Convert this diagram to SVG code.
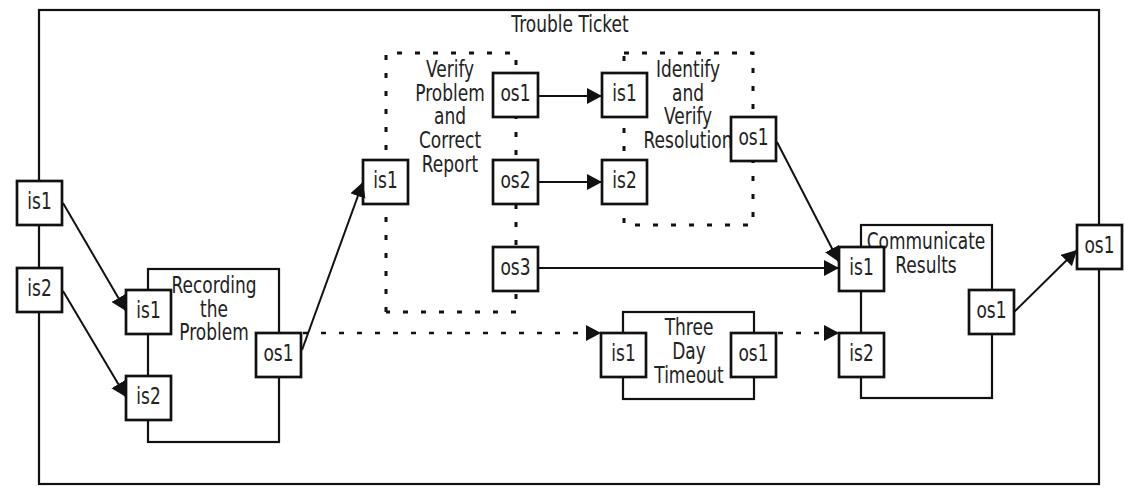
<svg xmlns="http://www.w3.org/2000/svg" width="1125" height="489" viewBox="0 0 1125 489">
<style>
.t{font-family:"DejaVu Sans","Liberation Sans",sans-serif;font-size:23px;fill:#222;text-anchor:middle}
.box{fill:none;stroke:#111;stroke-width:2.2}
.dot{fill:none;stroke:#111;stroke-width:3;stroke-dasharray:5 13}
.port rect{fill:#fff;stroke:#111;stroke-width:2.7}
.c{fill:none;stroke:#111;stroke-width:2}
.cd{fill:none;stroke:#111;stroke-width:2.6;stroke-dasharray:5 13}
</style>
<defs>
<marker id="ah" markerUnits="userSpaceOnUse" markerWidth="17" markerHeight="17" refX="15" refY="8" orient="auto">
<path d="M0,0 L15,8 L0,16 z" fill="#111"/>
</marker>
</defs>
<rect width="1125" height="489" fill="#fff"/>

<g id="trouble-ticket">
<rect class="box" x="39" y="10" width="1060" height="474" stroke-width="2.5"/>
<text class="t" transform="translate(570,32) scale(0.74,1)">Trouble Ticket</text>
</g>

<g id="recording">
<rect class="box" x="148" y="269" width="131" height="173"/>
<text class="t" transform="translate(214,293) scale(0.74,1)"><tspan x="0" y="0">Recording</tspan><tspan x="0" dy="24">the</tspan><tspan x="0" dy="23">Problem</tspan></text>
</g>

<g id="verify">
<path class="dot" d="M386,312 V53 H516 V312 H386"/>
<text class="t" transform="translate(450,77) scale(0.74,1)"><tspan x="0" y="0">Verify</tspan><tspan x="0" dy="24">Problem</tspan><tspan x="0" dy="23.5">and</tspan><tspan x="0" dy="23.5">Correct</tspan><tspan x="0" dy="24">Report</tspan></text>
</g>

<g id="identify">
<path class="dot" d="M624,53 H753 V225 H624 Z"/>
<text class="t" transform="translate(688,77) scale(0.74,1)"><tspan x="0" y="0">Identify</tspan><tspan x="0" dy="24">and</tspan><tspan x="0" dy="23.5">Verify</tspan><tspan x="0" dy="23.5">Resolution</tspan></text>
</g>

<g id="three-day">
<rect class="box" x="623" y="312" width="131" height="87"/>
<text class="t" transform="translate(689,335) scale(0.74,1)"><tspan x="0" y="0">Three</tspan><tspan x="0" dy="24">Day</tspan><tspan x="0" dy="24">Timeout</tspan></text>
</g>

<g id="communicate">
<rect class="box" x="861" y="225" width="131" height="173"/>
<text class="t" transform="translate(926,249) scale(0.74,1)"><tspan x="0" y="0">Communicate</tspan><tspan x="0" dy="24">Results</tspan></text>
</g>

<g id="tt-is1" class="port"><rect x="17" y="181" width="45" height="44"/><text class="t" transform="translate(39.5,209) scale(0.74,1)">is1</text></g>
<g id="tt-is2" class="port"><rect x="17" y="268" width="45" height="44"/><text class="t" transform="translate(39.5,296) scale(0.74,1)">is2</text></g>
<g id="tt-os1" class="port"><rect x="1077" y="225" width="45" height="44"/><text class="t" transform="translate(1099.5,253) scale(0.74,1)">os1</text></g>

<g id="rec-is1" class="port"><rect x="126" y="290" width="45" height="44"/><text class="t" transform="translate(148.5,318) scale(0.74,1)">is1</text></g>
<g id="rec-is2" class="port"><rect x="126" y="376" width="45" height="44"/><text class="t" transform="translate(148.5,404) scale(0.74,1)">is2</text></g>
<g id="rec-os1" class="port"><rect x="256" y="333" width="45" height="44"/><text class="t" transform="translate(278.5,361) scale(0.74,1)">os1</text></g>

<g id="ver-is1" class="port"><rect x="363" y="160" width="45" height="44"/><text class="t" transform="translate(385.5,188) scale(0.74,1)">is1</text></g>
<g id="ver-os1" class="port"><rect x="493" y="73" width="45" height="44"/><text class="t" transform="translate(515.5,101) scale(0.74,1)">os1</text></g>
<g id="ver-os2" class="port"><rect x="493" y="160" width="45" height="44"/><text class="t" transform="translate(515.5,188) scale(0.74,1)">os2</text></g>
<g id="ver-os3" class="port"><rect x="493" y="247" width="45" height="44"/><text class="t" transform="translate(515.5,275) scale(0.74,1)">os3</text></g>

<g id="ide-is1" class="port"><rect x="602" y="73" width="45" height="44"/><text class="t" transform="translate(624.5,101) scale(0.74,1)">is1</text></g>
<g id="ide-is2" class="port"><rect x="602" y="160" width="45" height="44"/><text class="t" transform="translate(624.5,188) scale(0.74,1)">is2</text></g>
<g id="ide-os1" class="port"><rect x="731" y="117" width="45" height="44"/><text class="t" transform="translate(753.5,145) scale(0.74,1)">os1</text></g>

<g id="tdt-is1" class="port"><rect x="601" y="333" width="45" height="44"/><text class="t" transform="translate(623.5,361) scale(0.74,1)">is1</text></g>
<g id="tdt-os1" class="port"><rect x="731" y="333" width="45" height="44"/><text class="t" transform="translate(753.5,361) scale(0.74,1)">os1</text></g>

<g id="com-is1" class="port"><rect x="839" y="247" width="45" height="44"/><text class="t" transform="translate(861.5,275) scale(0.74,1)">is1</text></g>
<g id="com-is2" class="port"><rect x="839" y="333" width="45" height="44"/><text class="t" transform="translate(861.5,361) scale(0.74,1)">is2</text></g>
<g id="com-os1" class="port"><rect x="969" y="290" width="45" height="44"/><text class="t" transform="translate(991.5,318) scale(0.74,1)">os1</text></g>

<g id="connectors">
<line class="c" x1="63" y1="203" x2="126" y2="311" marker-end="url(#ah)"/>
<line class="c" x1="63" y1="291" x2="126" y2="397" marker-end="url(#ah)"/>
<line class="c" x1="302" y1="350" x2="363" y2="182" marker-end="url(#ah)"/>
<line class="c" x1="538" y1="96" x2="602" y2="96" marker-end="url(#ah)"/>
<line class="c" x1="538" y1="182" x2="602" y2="182" marker-end="url(#ah)"/>
<line class="c" x1="538" y1="268" x2="839" y2="268" marker-end="url(#ah)"/>
<line class="c" x1="777" y1="142" x2="839" y2="262" marker-end="url(#ah)"/>
<line class="c" x1="1014" y1="312" x2="1077" y2="250" marker-end="url(#ah)"/>
<line class="cd" x1="303" y1="333" x2="601" y2="333" marker-end="url(#ah)"/>
<line class="cd" x1="778" y1="333" x2="839" y2="333" marker-end="url(#ah)"/>
</g>
</svg>
